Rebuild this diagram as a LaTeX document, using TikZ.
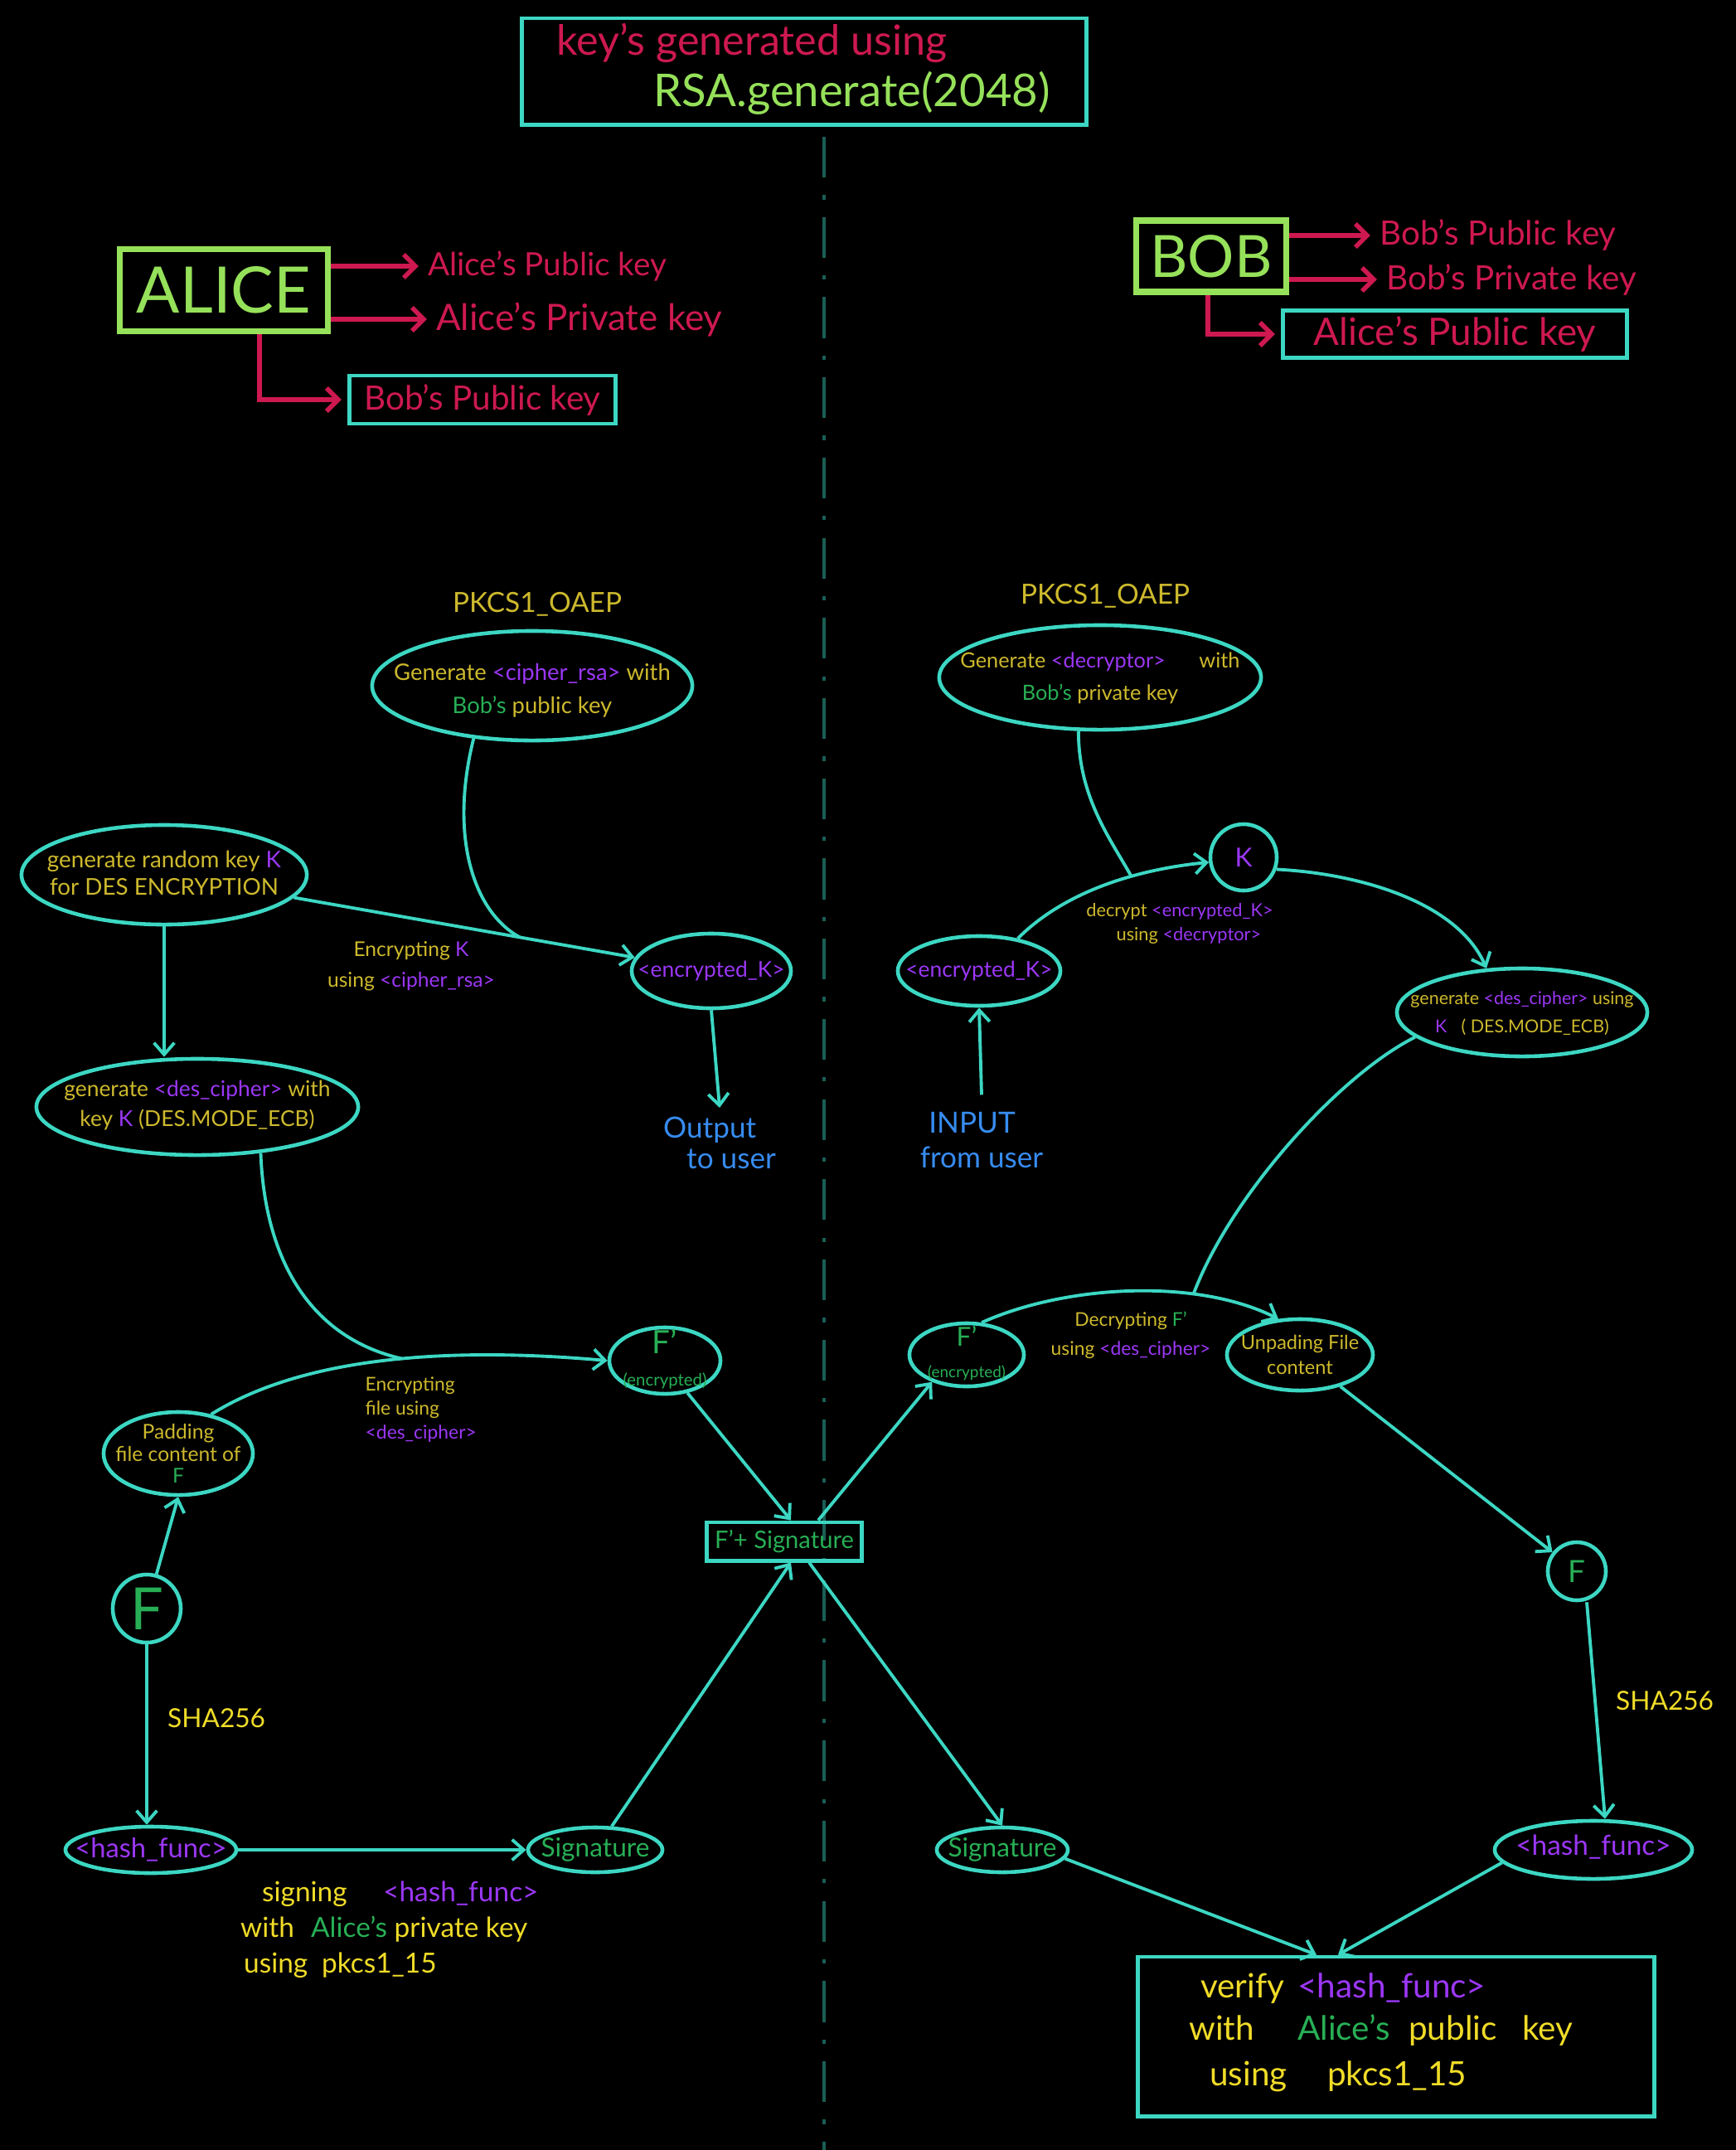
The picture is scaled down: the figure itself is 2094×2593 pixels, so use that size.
\documentclass[tikz,border=0pt]{standalone}
\usepackage{fontspec}
\setmainfont{Lato}
\usetikzlibrary{arrows.meta,shapes.geometric,calc}
\definecolor{tealc}{RGB}{60,215,195}
\definecolor{crim}{RGB}{205,25,80}
\definecolor{limec}{RGB}{150,225,90}
\definecolor{goldc}{RGB}{205,185,45}
\definecolor{yelc}{RGB}{240,220,40}
\definecolor{purc}{RGB}{155,55,245}
\definecolor{grnc}{RGB}{40,175,85}
\definecolor{bluc}{RGB}{55,140,240}
\definecolor{divc}{RGB}{25,95,85}
\newcommand\cpu[1]{\textcolor{purc}{#1}}
\newcommand\cgr[1]{\textcolor{grnc}{#1}}
\newcommand\fs[2]{\fontsize{#1}{#2}\selectfont}
\begin{document}
\begin{tikzpicture}[x=0.01cm,y=-0.01cm,
  link/.style={draw=tealc,line width=1.1pt},
  arr/.style={link,-{Straight Barb[length=4pt,width=7pt]}},
  keyarr/.style={draw=crim,line width=1.6pt,-{Straight Barb[length=4pt,width=8pt]},shorten >=2pt},
  ell/.style={ellipse,draw=tealc,line width=1.3pt,inner sep=0pt},
  circ/.style={circle,draw=tealc,line width=1.3pt,inner sep=0pt},
  etxt/.style={inner sep=0pt,align=center,text=goldc},
  wtxt/.style={inner sep=1pt,anchor=west},
  keybox/.style={draw=tealc,line width=1.4pt,inner sep=0pt},
  person/.style={draw=limec,line width=2.2pt,inner sep=0pt,text=limec},
]
\path[use as bounding box,fill=black] (0,0) rectangle (2094,2593);

% divider
\coordinate (divTop) at (994,165);
\coordinate (divBot) at (994,2593);
\draw[divc,line width=1pt,dash pattern=on 14pt off 6pt on 1.5pt off 6pt] (divTop) -- (divBot);

% title box
\node[keybox,minimum width=6.8cm,minimum height=1.28cm] (topbox) at (970,86) {};
\node[wtxt,text=crim,font=\fs{14.3}{17}] (topt1) at (667,52) {key's generated using};
\node[wtxt,text=limec,font=\fs{15.5}{18}] (topt2) at (784,112) {RSA.generate(2048)};

% Alice
\node[person,minimum width=2.51cm,minimum height=0.99cm,font=\fs{22}{24}] (alice) at (270,350) {ALICE};
\node[wtxt,text=crim,font=\fs{11}{13}] (apub) at (512,321) {Alice's Public key};
\node[wtxt,text=crim,font=\fs{12.5}{14}] (apriv) at (522,385) {Alice's Private key};
\draw[keyarr] (alice.east |- apub.west) -- (apub.west);
\draw[keyarr] (alice.east |- apriv.west) -- (apriv.west);
\node[keybox,minimum width=3.21cm,minimum height=0.58cm,text=crim,font=\fs{11.5}{13}] (bobpubA) at (582,482) {Bob's Public key};
\draw[keyarr] ([xshift=0.43cm]alice.south) |- (bobpubA.west);

% Bob
\node[person,minimum width=1.81cm,minimum height=0.86cm,font=\fs{20}{22}] (bob) at (1461,309) {BOB};
\node[wtxt,text=crim,font=\fs{11.5}{13}] (bpub) at (1660,284) {Bob's Public key};
\node[wtxt,text=crim,font=\fs{11.5}{13}] (bpriv) at (1668,337) {Bob's Private key};
\draw[keyarr] (bob.east |- bpub.west) -- (bpub.west);
\draw[keyarr] (bob.east |- bpriv.west) -- (bpriv.west);
\node[keybox,minimum width=4.15cm,minimum height=0.57cm,text=crim,font=\fs{13}{15}] (alicepubB) at (1755,403) {Alice's Public key};
\draw[keyarr] ([xshift=-0.04cm]bob.south) |- (alicepubB.west);

% ---------- left (Alice) flow ----------
\node[etxt,font=\fs{9.5}{11}] (pkcsL) at (648,729) {PKCS1\_OAEP};
\node[ell,minimum width=3.86cm,minimum height=1.32cm] (rsaL) at (642,827) {};
\node[etxt,font=\fs{7.8}{11.5}] (rsaLt) at (642,833) {Generate \cpu{<cipher\_rsa>} with\\\cgr{Bob's} public key};

\node[ell,minimum width=3.44cm,minimum height=1.2cm] (randK) at (198,1055) {};
\node[etxt,font=\fs{7.9}{9.5}] (randKt) at (198,1053) {generate random key \cpu{K}\\for DES ENCRYPTION};

\node[ell,minimum width=1.92cm,minimum height=0.9cm] (encKL) at (858,1171) {};
\node[etxt,text=purc,font=\fs{7.5}{9}] (encKLt) at (858,1171) {<encrypted\_K>};

\node[inner sep=0pt,align=left,text=bluc,font=\fs{10}{10.5}] (outL) at (868,1378) {Output\\\hspace{0.8em}to user};

\node[ell,minimum width=3.88cm,minimum height=1.16cm] (desL) at (238,1335) {};
\node[etxt,font=\fs{7.5}{10.5}] (desLt) at (238,1333) {generate \cpu{<des\_cipher>} with\\key \cpu{K} (DES.MODE\_ECB)};

\node[ell,minimum width=1.8cm,minimum height=1.0cm] (padL) at (215,1753) {};
\node[etxt,font=\fs{7}{7.6}] (padLt) at (215,1753) {Padding\\file content of\\\cgr{F}};

\node[ell,minimum width=1.34cm,minimum height=0.8cm] (fpL) at (802,1641) {};
\node[etxt,text=grnc] (fpLt) at (802,1639) {{\fs{11}{11}F'}\\[-1pt]{\fs{5.8}{6}(encrypted)}};

\node[circ,minimum size=0.82cm] (FL) at (177,1940) {};
\node[etxt,text=grnc,font=\fs{20}{20}] (FLt) at (177,1940) {F};

\node[ell,minimum width=2.06cm,minimum height=0.56cm] (hashL) at (182,2231) {};
\node[etxt,text=purc,font=\fs{9.3}{10}] (hashLt) at (182,2231) {<hash\_func>};

\node[ell,minimum width=1.62cm,minimum height=0.54cm] (sigL) at (718,2231) {};
\node[etxt,text=grnc,font=\fs{9}{10}] (sigLt) at (718,2231) {Signature};

\node[keybox,minimum width=1.87cm,minimum height=0.46cm,text=grnc,font=\fs{8.3}{9}] (fsig) at (946,1859) {F'+ Signature};

% left connectors
\draw[arr] (randK) -- (encKL);
\coordinate (J1) at ($(randK)!0.65!(encKL)$);
\draw[link] (rsaL.222) .. controls +(-30,120) and +(-55,-30) .. (J1);
\node[etxt,font=\fs{7}{10.5}] (lblEncK) at (496,1165) {Encrypting \cpu{K}\\using \cpu{<cipher\_rsa>}};
\draw[arr] (encKL.south) -- ([yshift=0.1cm]outL.north);
\draw[arr] (randK.south) -- (randK.south |- desL.north);
\draw[arr] (padL.50) .. controls +(120,-75) and +(-170,-15) .. (fpL.west) coordinate[pos=0.52] (J2);
\draw[link] (desL.-36) .. controls +(5,130) and +(-110,-25) .. (J2);
\node[inner sep=0pt,align=left,text=goldc,font=\fs{6.5}{8.3},anchor=west] (lblEncF) at (440,1700) {Encrypting\\file using\\\cpu{<des\_cipher>}};
\draw[arr] (FL) -- (padL.south);
\draw[arr] (FL.south) -- (FL.south |- hashL.north);
\node[wtxt,text=yelc,font=\fs{9}{10}] (shaL) at (198,2072) {SHA256};
\draw[arr] (hashL.east) -- (sigL.west);
\node[wtxt,text=yelc,font=\fs{9.5}{11}] (sl1) at (312,2284) {signing\hspace{1.3em}\cpu{<hash\_func>}};
\node[wtxt,text=yelc,font=\fs{9.5}{11}] (sl2) at (286,2327) {with\hspace{0.6em}\cgr{Alice's} private key};
\node[wtxt,text=yelc,font=\fs{9.5}{11}] (sl3) at (290,2370) {using\hspace{0.5em}pkcs1\_15};
\draw[arr] (sigL.55) -- ([xshift=0.08cm]fsig.south);
\draw[arr] (fpL.-55) -- ([xshift=0.08cm]fsig.north);

% ---------- right (Bob) flow ----------
\node[etxt,font=\fs{9.5}{11}] (pkcsR) at (1333,719) {PKCS1\_OAEP};
\node[ell,minimum width=3.88cm,minimum height=1.26cm] (decR) at (1327,817) {};
\node[etxt,font=\fs{7.2}{11}] (decRt) at (1327,818) {Generate \cpu{<decryptor>}\hspace{1.6em}with\\\cgr{Bob's} private key};

\node[circ,minimum size=0.8cm] (Kc) at (1500,1034) {};
\node[etxt,text=purc,font=\fs{9}{10}] (Kct) at (1500,1034) {K};

\node[ell,minimum width=1.96cm,minimum height=0.84cm] (encKR) at (1181,1171) {};
\node[etxt,text=purc,font=\fs{7.5}{9}] (encKRt) at (1181,1171) {<encrypted\_K>};

\node[inner sep=0pt,align=left,text=bluc,font=\fs{10}{12}] (inR) at (1184,1375) {\hspace{0.3em}INPUT\\from user};

\node[ell,minimum width=3.02cm,minimum height=1.06cm] (desR) at (1836,1221) {};
\node[etxt,font=\fs{6.1}{9.5}] (desRt) at (1836,1222) {generate \cpu{<des\_cipher>} using\\\cpu{K}\hspace{0.8em}( DES.MODE\_ECB)};

\node[ell,minimum width=1.38cm,minimum height=0.76cm] (fpR) at (1166,1634) {};
\node[etxt,text=grnc] (fpRt) at (1166,1632) {{\fs{9}{9}F'}\\[-1pt]{\fs{5.4}{6}(encrypted)}};

\node[ell,minimum width=1.76cm,minimum height=0.86cm] (unpadR) at (1568,1634) {};
\node[etxt,font=\fs{6.7}{8.5}] (unpadRt) at (1568,1634) {Unpading File\\content};

\node[circ,minimum size=0.7cm] (FR) at (1902,1895) {};
\node[etxt,text=grnc,font=\fs{10.5}{11}] (FRt) at (1902,1895) {F};

\node[ell,minimum width=2.38cm,minimum height=0.7cm] (hashR) at (1922,2231) {};
\node[etxt,text=purc,font=\fs{9.5}{10}] (hashRt) at (1922,2228) {<hash\_func>};

\node[ell,minimum width=1.58cm,minimum height=0.54cm] (sigR) at (1209,2231) {};
\node[etxt,text=grnc,font=\fs{9}{10}] (sigRt) at (1209,2231) {Signature};

\node[keybox,minimum width=6.23cm,minimum height=1.92cm] (verify) at (1684,2456) {};
\node[wtxt,text=yelc,font=\fs{11.5}{13}] (v1) at (1444,2398) {verify\hspace{0.4em}\cpu{<hash\_func>}};
\node[wtxt,text=yelc,font=\fs{11.5}{13}] (v2) at (1430,2448) {with\hspace{1.3em}\cgr{Alice's}\hspace{0.3em} public\hspace{0.5em} key};
\node[wtxt,text=yelc,font=\fs{11.5}{13}] (v3) at (1455,2504) {using\hspace{1.2em}pkcs1\_15};

% center connectors
\draw[arr] ([xshift=0.41cm]fsig.north) -- (fpR.218);
\draw[arr] ([xshift=0.3cm]fsig.south) -- (sigR.north);

% right connectors
\draw[arr] (encKR.40) .. controls +(60,-60) and +(-80,8) .. (Kc.188) coordinate[pos=0.62] (J3);
\draw[link] (decR.248) .. controls +(0,80) and +(-25,-45) .. (J3);
\node[etxt,font=\fs{6.2}{8}] (lblDec) at (1423,1114) {decrypt \cpu{<encrypted\_K>}\\\hspace{1em}using \cpu{<decryptor>}};
\draw[arr] ([yshift=0.2cm]inR.north) -- (encKR.south);
\draw[arr] (Kc.-20) .. controls +(100,5) and +(-35,-80) .. (desR.129);
\draw[arr] (fpR.65) .. controls +(100,-45) and +(-100,-50) .. (unpadR.121) coordinate[pos=0.7] (J4);
\draw[link] (desR.193) .. controls +(-90,45) and +(45,-120) .. (J4);
\node[etxt,font=\fs{6.5}{10}] (lblDecF) at (1364,1610) {Decrypting \cgr{F'}\\using \cpu{<des\_cipher>}};
\draw[arr] (unpadR) -- (FR);
\draw[arr] ([xshift=0.12cm]FR.south) -- ([xshift=0.14cm]hashR.north);
\node[wtxt,text=yelc,font=\fs{9}{10}] (shaR) at (1945,2051) {SHA256};
\draw[arr] (sigR.-8) -- ([xshift=-0.96cm]verify.north);
\draw[arr] (hashR.188) -- ([xshift=-0.7cm]verify.north);
\end{tikzpicture}
\end{document}
